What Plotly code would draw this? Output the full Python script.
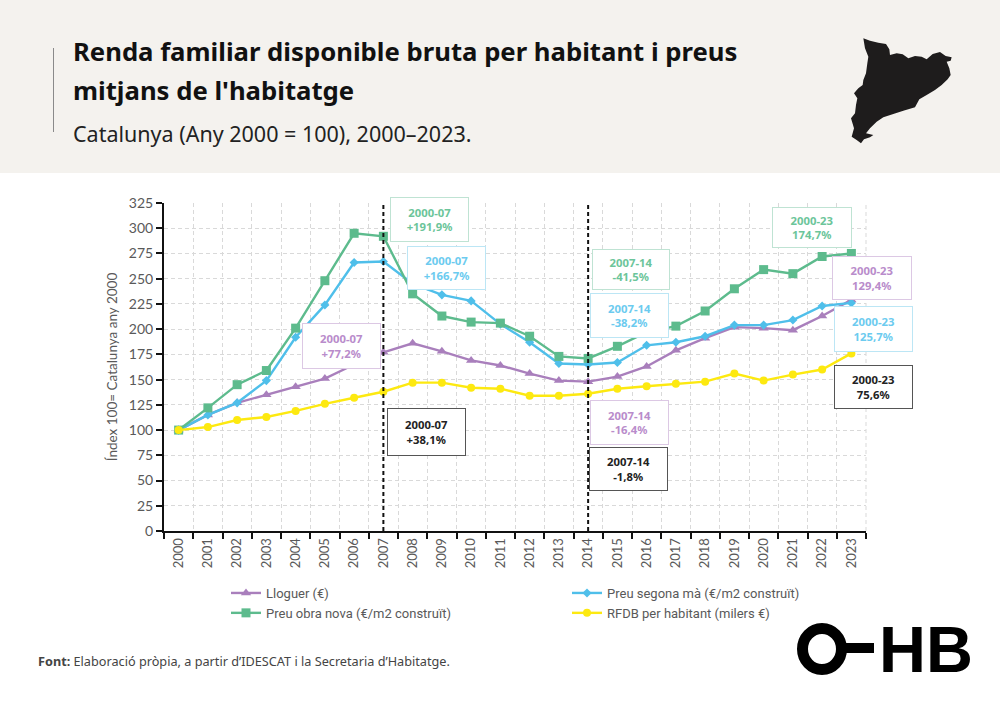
import plotly.graph_objects as go

years = [str(y) for y in range(2000, 2024)]
lloguer = [100, 115, 127, 135, 143, 151, 165, 177, 186, 178, 169, 164, 156, 149, 148, 153, 163, 179, 191, 202, 201, 199, 213, 229]
segona_ma = [100, 115, 127, 149, 192, 224, 266, 267, 245, 234, 228, 205, 187, 166, 165, 167, 184, 187, 193, 204, 204, 209, 223, 226]
obra_nova = [100, 122, 145, 159, 201, 248, 295, 292, 235, 213, 207, 206, 193, 173, 171, 183, 197, 203, 218, 240, 259, 255, 272, 275]
rfdb = [100, 103, 110, 113, 119, 126, 132, 138, 147, 147, 142, 141, 134, 134, 136, 141, 143.5, 146, 148, 156, 149, 155, 160, 176]
marked_years = ["2007", "2014"]

PURPLE, BLUE, GREEN, YELLOW = "#A97FBC", "#4FBFEA", "#5DBB8D", "#FDE910"
TITLE_LINES = ["Renda familiar disponible bruta per habitant i preus", "mitjans de l'habitatge"]
SUBTITLE = "Catalunya (Any 2000 = 100), 2000–2023."

# plot area in page pixels
L, R, T, B = 164, 866, 203, 531
W, H = 1000, 706
def px(x): return (x - L) / (R - L)
def py(y): return (B - y) / (B - T)

series = [("Lloguer (€)", lloguer, PURPLE, "triangle-up", 9, "legend"),
          ("Preu segona mà (€/m2 construït)", segona_ma, BLUE, "diamond", 7, "legend2"),
          ("Preu obra nova (€/m2 construït)", obra_nova, GREEN, "square", 9, "legend"),
          ("RFDB per habitant (milers €)", rfdb, YELLOW, "circle", 8, "legend2")]

fig = go.Figure()
for name, vals, col, sym, size, leg in series:
    fig.add_trace(go.Scatter(x=years, y=vals, name=name, mode="lines+markers", legend=leg,
                             line=dict(color=col, width=2.4),
                             marker=dict(color=col, symbol=sym, size=size),
                             cliponaxis=False))

shapes = []
# header band and rule
shapes.append(dict(type="rect", xref="paper", yref="paper", x0=px(0), x1=px(W), y0=py(0), y1=py(173),
                   fillcolor="#F4F2EE", line_width=0, layer="below"))
shapes.append(dict(type="line", xref="paper", yref="paper", x0=px(53.5), x1=px(53.5), y0=py(48), y1=py(132),
                   line=dict(color="#8A8A8A", width=1)))
# reference lines
for yr in marked_years:
    pos = years.index(yr)
    shapes.append(dict(type="line", xref="x", yref="paper", x0=pos, x1=pos, y0=0, y1=1,
                       line=dict(color="#111111", width=2, dash="4px,3px")))
# right grid border
shapes.append(dict(type="line", xref="paper", yref="paper", x0=1, x1=1, y0=0, y1=1,
                   line=dict(color="#D9D9D9", width=1, dash="4px,3px"), layer="below"))

# map silhouette (decorative), traced outline in zoomed-crop pixels
map_outline = [(250,55),(270,62),(295,68),(318,72),(328,88),(330,105),(350,100),(368,103),(385,115),(405,108),
               (425,110),(440,118),(458,102),(480,96),(497,108),(515,112),(512,122),(500,125),(508,145),(512,165),
               (503,178),(485,195),(465,210),(440,225),(418,238),(405,262),(370,272),(340,282),(310,292),(290,305),
               (270,325),(258,340),(280,345),(270,352),(252,358),(243,370),(230,360),(215,350),(222,325),(213,295),
               (225,280),(228,255),(232,235),(222,220),(235,205),(248,195),(250,180),(258,160),(262,130),(265,110),(255,85)]
path = "M " + " L ".join(f"{px(780+a/3):.5f},{py(20+b/3):.5f}" for a, b in map_outline) + " Z"
shapes.append(dict(type="path", xref="paper", yref="paper", path=path, fillcolor="#1E1C1C", line_width=0))

# logo
shapes.append(dict(type="circle", xref="paper", yref="paper", x0=px(802.5), x1=px(841.5), y0=py(669.5), y1=py(628.5),
                   line=dict(color="#000000", width=11)))
shapes.append(dict(type="line", xref="paper", yref="paper", x0=px(845), x1=px(874), y0=py(648), y1=py(648),
                   line=dict(color="#000000", width=10)))

annotations = []
def text(x, y, s, size, color, family="Noto Sans", anchor="left", **kw):
    annotations.append(dict(xref="paper", yref="paper", x=px(x), y=py(y), text=s, showarrow=False,
                            xanchor=anchor, yanchor="middle", align=anchor,
                            font=dict(size=size, color=color, family=family), **kw))

text(71, 52, f"<b>{TITLE_LINES[0]}</b>", 25.7, "#111111")
text(71, 90, f"<b>{TITLE_LINES[1]}</b>", 25.7, "#111111")
text(71, 133, SUBTITLE, 21.5, "#222222")
text(36, 661, "<b>Font:</b> Elaboració pròpia, a partir d’IDESCAT i la Secretaria d’Habitatge.", 12.7, "#444444")
text(877, 649, "<b>HB</b>", 65, "#000000", family="Liberation Sans")

# callout boxes: label, value, x0, x1, y0, y1, text colour, border colour
boxes = [("2000-07", "+191,9%", 391, 468, 198, 241, "#6CC59A", "#BFE3D3"),
         ("2000-07", "+166,7%", 408, 485, 247, 289, "#6CCBEF", "#BCE6F5"),
         ("2000-07", "+77,2%", 303, 380, 324, 368, "#B98CCB", "#DCC8E4"),
         ("2000-07", "+38,1%", 388, 465, 409, 455, "#222222", "#555555"),
         ("2007-14", "-41,5%", 593, 669, 250, 289, "#6CC59A", "#BFE3D3"),
         ("2007-14", "-38,2%", 591, 668, 294, 337, "#6CCBEF", "#BCE6F5"),
         ("2007-14", "-16,4%", 591, 668, 401, 444, "#B98CCB", "#DCC8E4"),
         ("2007-14", "-1,8%", 590, 667, 448, 490, "#222222", "#555555"),
         ("2000-23", "174,7%", 773, 851, 208, 247, "#6CC59A", "#BFE3D3"),
         ("2000-23", "129,4%", 833, 911, 257, 299, "#B98CCB", "#DCC8E4"),
         ("2000-23", "125,7%", 835, 912, 307, 351, "#6CCBEF", "#BCE6F5"),
         ("2000-23", "75,6%", 835, 912, 366, 408, "#222222", "#555555")]
for lab, val, x0, x1, y0, y1, tc, bc in boxes:
    annotations.append(dict(xref="paper", yref="paper", x=px((x0+x1)/2), y=py((y0+y1)/2),
                            text=f"<b>{lab}<br>{val}</b>", showarrow=False, xanchor="center", yanchor="middle",
                            width=x1-x0, height=y1-y0, align="center", valign="middle",
                            bgcolor="#FFFFFF", bordercolor=bc, borderwidth=1, borderpad=0,
                            font=dict(size=11.3, color=tc, family="Noto Sans")))

axis_font = dict(family="Lato", color="#595959")
legend_style = dict(orientation="v", y=py(578), xanchor="left", yanchor="top", itemwidth=30,
                    bgcolor="rgba(0,0,0,0)", traceorder="normal", tracegroupgap=0,
                    font=dict(size=13, family="Roboto", color="#595959"))
fig.update_layout(
    width=W, height=H, autosize=False, paper_bgcolor="#FFFFFF", plot_bgcolor="#FFFFFF",
    margin=dict(l=L, r=W-R, t=T, b=H-B), shapes=shapes, annotations=annotations,
    xaxis=dict(type="category", tickson="boundaries", range=[-0.5, 23.5], tickangle=-90,
               ticks="outside", ticklen=6, tickwidth=1.5, tickcolor="#111111",
               showline=True, linecolor="#111111", linewidth=2,
               showgrid=True, gridcolor="#D9D9D9", griddash="4px,3px", gridwidth=1,
               tickfont=dict(size=13, **axis_font)),
    yaxis=dict(range=[0, 325], tick0=0, dtick=25, ticks="outside", ticklen=6, tickwidth=1.5, tickcolor="#111111",
               showline=True, linecolor="#111111", linewidth=2,
               showgrid=True, gridcolor="#D9D9D9", griddash="4px,3px", gridwidth=1, zeroline=False,
               tickfont=dict(size=14, **axis_font),
               title=dict(text="Índex 100= Catalunya any 2000", font=dict(size=13.5, **axis_font), standoff=8)),
    legend=dict(x=px(226), **legend_style),
    legend2=dict(x=px(567), **legend_style),
    showlegend=True,
)
fig.write_html("out.html", config=dict(displayModeBar=False), post_script="document.body.style.margin='0';")
